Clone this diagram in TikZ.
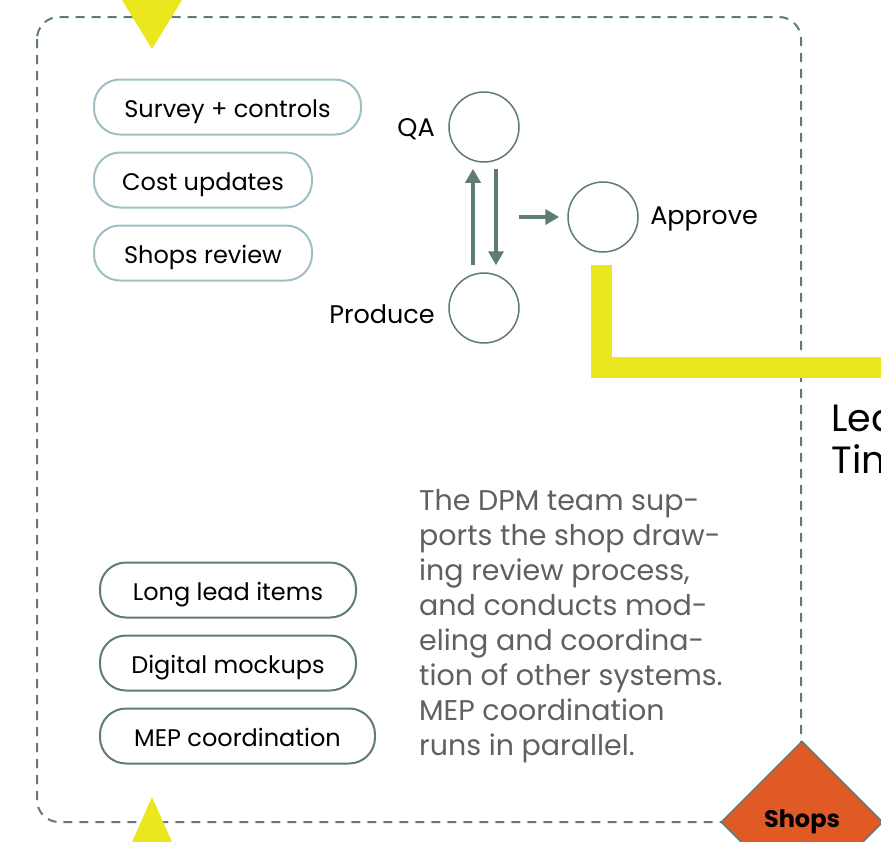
\documentclass[tikz,border=0pt]{standalone}
\usepackage{fontspec}
\setmainfont{Poppins}
\usetikzlibrary{positioning, shapes, arrows.meta}

\definecolor{lineg}{HTML}{5F7B75}
\definecolor{pilll}{HTML}{9CC0C4}
\definecolor{yelo}{HTML}{EBE71E}
\definecolor{shopor}{HTML}{E05A26}
\definecolor{bodyg}{HTML}{606060}

\begin{document}
\begin{tikzpicture}[x=1pt, y=-1pt, node distance=10pt]
	\tikzstyle{pill} = [rectangle, draw=lineg, line width=2pt, rounded corners=26pt, minimum height=55pt, minimum width=256pt, text height=21pt, text depth=1pt, anchor=west, font=\fontsize{24}{28}\selectfont]
	\tikzstyle{pilltop} = [pill, draw=pilll, minimum width=218pt]
	\tikzstyle{stage} = [circle, draw=lineg, line width=1.5pt, minimum size=70pt, inner sep=0pt]
	\tikzstyle{lbl} = [font=\fontsize{25.5}{30}\selectfont]
	\tikzstyle{arrow} = [lineg, line width=3.5pt, -{Triangle[width=15pt, length=14pt]}]
	\tikzstyle{frame} = [lineg, line width=2pt, dash pattern=on 9pt off 7pt, rounded corners=22pt]
	\tikzstyle{yellowbar} = [yelo, line width=21pt]

	\useasboundingbox (0,0) rectangle (881,841);
	\clip (0,0) rectangle (881,841);

	% outer frame
	\draw [frame] (37,17) rectangle (801,822);

	% markers on the frame
	\fill [yelo] (122,0) -- (182,0) -- (152,49) -- cycle;
	\fill [yelo] (152,797) -- (180,860) -- (124,860) -- cycle;

	% task pills
	\node [pilltop, minimum width=267pt] (survey) at (93,107) {Survey + controls};
	\node [pilltop] (cost) at (93,180) {Cost updates};
	\node [pilltop] (review) at (93,253) {Shops review};

	\node [pill] (longlead) at (99,590) {Long lead items};
	\node [pill] (mockups) at (99,663) {Digital mockups};
	\node [pill, minimum width=275pt] (mep) at (99,736) {MEP coordination};

	% review loop
	\node [stage] (qa) at (484,127) {};
	\node [stage] (produce) at (484,308) {};
	\node [stage] (approve) at (603,217) {};
	\node [lbl, left=of qa, yshift=-2pt] (qalbl) {QA};
	\node [lbl, left=of produce, yshift=-6pt] (producelbl) {Produce};
	\node [lbl, right=of approve, xshift=-2pt, yshift=-2pt] (approvelbl) {Approve};

	\coordinate (loopmid) at (519,217);
	\draw [arrow] ([xshift=-11pt]produce.north) ++(0,-7) -- ([xshift=-11pt, yshift=-6pt]qa.south);
	\draw [arrow] ([xshift=12pt]qa.south) ++(0,6) -- ([xshift=12pt, yshift=7pt]produce.north);
	\draw [arrow] (loopmid) -- ([xshift=-8pt]approve.west);

	% lead time path
	\coordinate (barend) at (900,367.5);
	\draw [yellowbar] ([xshift=-1.5pt, yshift=-12pt]approve.south) |- (barend);
	\node [anchor=north west, align=left, font=\fontsize{38}{42}\selectfont] (leadtime) at (828,400) {Lead\\Time};

	% description
	\node [anchor=north west, align=left, text=bodyg, inner sep=0pt, font=\fontsize{28.5}{35}\selectfont] (desc) at (419,489) {The DPM team sup-\\ports the shop draw-\\ing review process,\\and conducts mod-\\eling and coordina-\\tion of other systems.\\MEP coordination\\runs in parallel.};

	% milestone
	\node [diamond, fill=shopor, draw=lineg, line width=1.5pt, minimum size=162pt, inner sep=0pt, font=\bfseries\fontsize{24}{28}\selectfont] (shops) at (802,822) {\raisebox{4pt}{Shops}};
\end{tikzpicture}
\end{document}
